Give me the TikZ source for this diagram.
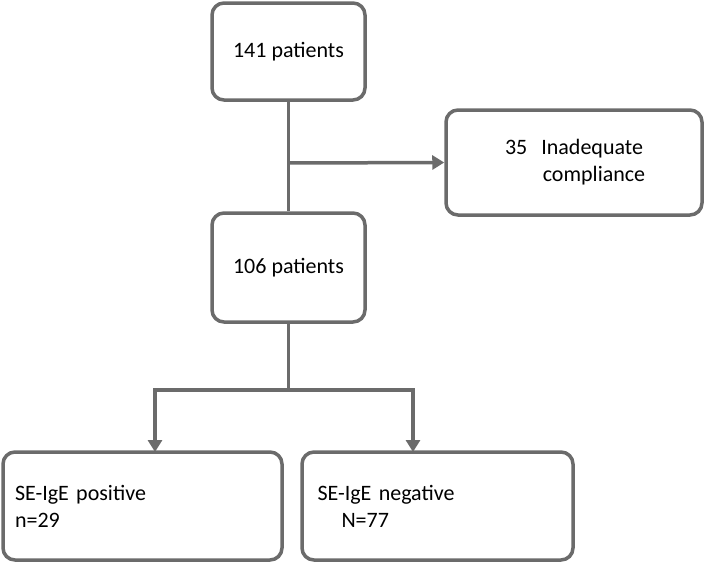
\documentclass[tikz,border=0pt]{standalone}
\usepackage{fontspec}
\setmainfont{Carlito}
\usetikzlibrary{arrows.meta}
\definecolor{bd}{gray}{0.42}
\begin{document}
\begin{tikzpicture}[x=1pt,y=-1pt,
  bx/.style={draw=bd,line width=3.5pt,rounded corners=12pt,fill=white,align=center,font=\fontsize{22}{27}\selectfont,inner sep=0pt},
  ln/.style={draw=bd,line width=3.5pt},
  ar/.style={ln,-{Triangle[length=12pt,width=14pt]}}]
\useasboundingbox (0,0) rectangle (708,565);
\node[bx,minimum width=153pt,minimum height=97pt] (a) at (288.5,51.5) {141 patients};
\node[bx,minimum width=256pt,minimum height=105pt] (c) at (574,162.5) {35\hspace{14pt}Inadequate\\\hspace{40pt}compliance};
\node[bx,minimum width=153pt,minimum height=109pt] (b) at (288.5,267.5) {106 patients};
\node[bx,minimum width=279pt,minimum height=108pt,align=left,text width=255pt] (d) at (142.5,506) {SE-IgE positive\\n=29};
\node[bx,minimum width=271pt,minimum height=108pt,align=left,text width=240pt] (e) at (437.5,506) {SE-IgE negative\\\hspace{24pt}N=77};
\coordinate (j) at (288.5,163);
\draw[ln] (a) -- (b);
\draw[ar] (j) -- (c.west);
\coordinate (k) at (288.5,390);
\draw[ln] (b) -- (k);
\draw[ar] (k) -| (155,452);
\draw[ar] (k) -| (413,452);
\end{tikzpicture}
\end{document}
